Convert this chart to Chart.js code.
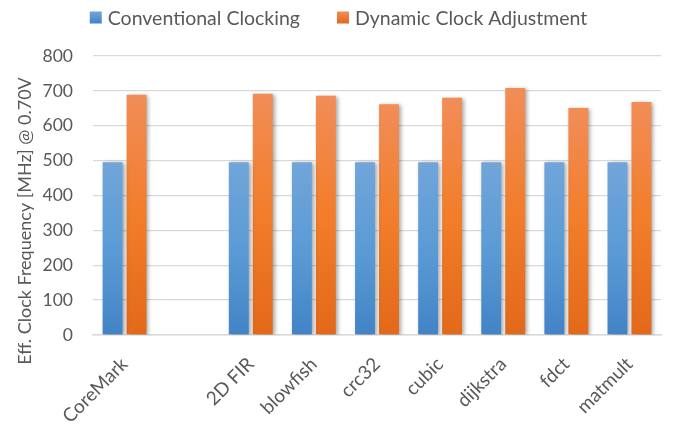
<!DOCTYPE html>
<html>
<head>
<meta charset="utf-8">
<script src="https://cdn.jsdelivr.net/npm/chart.js@4/dist/chart.umd.min.js"></script>
<style>
  html, body { margin: 0; padding: 0; background: #ffffff; }
  #wrap { width: 673px; height: 424px; position: relative; }
</style>
</head>
<body>
<div id="wrap"><canvas id="c"></canvas></div>
<script>
// Benchmarks (the blank entry leaves a gap after CoreMark)
const categories = ['CoreMark', '', '2D FIR', 'blowfish', 'crc32', 'cubic', 'dijkstra', 'fdct', 'matmult'];
// Effective clock frequency in MHz at 0.70 V
const conventionalClocking = [495, null, 495, 495, 495, 495, 495, 495, 495];
const dynamicClockAdjustment = [689, null, 692, 686, 662, 680, 708, 651, 668];
const yTicks = [0, 100, 200, 300, 400, 500, 600, 700, 800];

const FONT = 'Lato, "Open Sans", sans-serif';
const TEXT = '#595959';
const AXIS_TITLE = 'Eff. Clock Frequency [MHz] @ 0.70V';
const SERIES_COLOURS = [
  ['#71a5da', '#5b9bd5', '#4283c6'],
  ['#f18d58', '#f27d2a', '#e2691a']
];

// Vertical gradient per bar: light at the top, darker at the base
function barGradient(stops) {
  return function (ctx) {
    const chart = ctx.chart;
    const v = ctx.raw;
    if (!chart.chartArea || v == null) return stops[1];
    const ys = chart.scales.y;
    const y0 = ys.getPixelForValue(v);
    const y1 = ys.getPixelForValue(0);
    if (!isFinite(y0) || !isFinite(y1) || y0 === y1) return stops[1];
    const g = chart.ctx.createLinearGradient(0, y0, 0, y1);
    g.addColorStop(0, stops[0]);
    g.addColorStop(0.5, stops[1]);
    g.addColorStop(1, stops[2]);
    return g;
  };
}

// Soft drop shadow behind the bars
const barShadow = {
  id: 'barShadow',
  beforeDatasetsDraw(chart) {
    const c = chart.ctx;
    c.save();
    c.shadowColor = 'rgba(0,0,0,0.35)';
    c.shadowBlur = 4;
    c.shadowOffsetX = 2;
    c.shadowOffsetY = 1;
  },
  afterDatasetsDraw(chart) {
    chart.ctx.restore();
  }
};

// Rotated value-axis title, centred on the full plot block
const yTitle = {
  id: 'yTitle',
  afterDraw(chart) {
    const c = chart.ctx;
    c.save();
    c.translate(25, 221);
    c.rotate(-Math.PI / 2);
    c.font = '18px ' + FONT;
    c.fillStyle = TEXT;
    c.textAlign = 'center';
    c.textBaseline = 'middle';
    c.fillText(AXIS_TITLE, 0, 0);
    c.restore();
  }
};

// Series key across the top: square swatch followed by the series name
const topLegend = {
  id: 'topLegend',
  afterDraw(chart) {
    const c = chart.ctx;
    const box = 12, gap = 6, between = 37, cy = 17.5;
    c.save();
    c.font = '19.5px ' + FONT;
    c.textBaseline = 'middle';
    c.textAlign = 'left';
    const items = chart.data.datasets.map((d, i) => ({
      text: d.label, stops: SERIES_COLOURS[i], w: c.measureText(d.label).width
    }));
    const total = items.reduce((s, it) => s + box + gap + it.w, 0) + between * (items.length - 1);
    let x = 338.5 - total / 2;
    items.forEach(it => {
      const g = c.createLinearGradient(0, cy - box / 2, 0, cy + box / 2);
      g.addColorStop(0, it.stops[0]);
      g.addColorStop(1, it.stops[2]);
      c.fillStyle = g;
      c.fillRect(x, cy - box / 2, box, box);
      c.fillStyle = TEXT;
      c.fillText(it.text, x + box + gap, cy + 1);
      x += box + gap + it.w + between;
    });
    c.restore();
  }
};

new Chart(document.getElementById('c'), {
  type: 'bar',
  data: {
    labels: categories,
    datasets: [
      {
        label: 'Conventional Clocking',
        data: conventionalClocking,
        backgroundColor: barGradient(SERIES_COLOURS[0]),
        borderWidth: 0,
        barPercentage: 0.83,
        categoryPercentage: 0.76
      },
      {
        label: 'Dynamic Clock Adjustment',
        data: dynamicClockAdjustment,
        backgroundColor: barGradient(SERIES_COLOURS[1]),
        borderWidth: 0,
        barPercentage: 0.83,
        categoryPercentage: 0.76
      }
    ]
  },
  options: {
    responsive: true,
    maintainAspectRatio: false,
    animation: false,
    layout: { padding: { left: 42, right: 12, top: 56, bottom: 0 } },
    plugins: {
      legend: { display: false },
      tooltip: { enabled: false }
    },
    scales: {
      x: {
        grid: { display: false },
        border: { display: true, color: '#d9d9d9', width: 1.5 },
        afterFit(scale) { scale.height = 89; },
        ticks: {
          font: { family: FONT, size: 19 },
          color: TEXT,
          maxRotation: 45,
          minRotation: 45,
          autoSkip: false,
          padding: 10,
          labelOffset: 0
        }
      },
      y: {
        min: 0,
        max: 800,
        afterBuildTicks(scale) { scale.ticks = yTicks.map(v => ({ value: v })); },
        afterFit(scale) { scale.width = 51; },
        grid: { color: '#d9d9d9', lineWidth: 1.3, drawTicks: false },
        border: { display: false },
        ticks: {
          font: { family: FONT, size: 17.5 },
          color: TEXT,
          padding: 20
        }
      }
    }
  },
  plugins: [barShadow, yTitle, topLegend]
});
</script>
</body>
</html>
